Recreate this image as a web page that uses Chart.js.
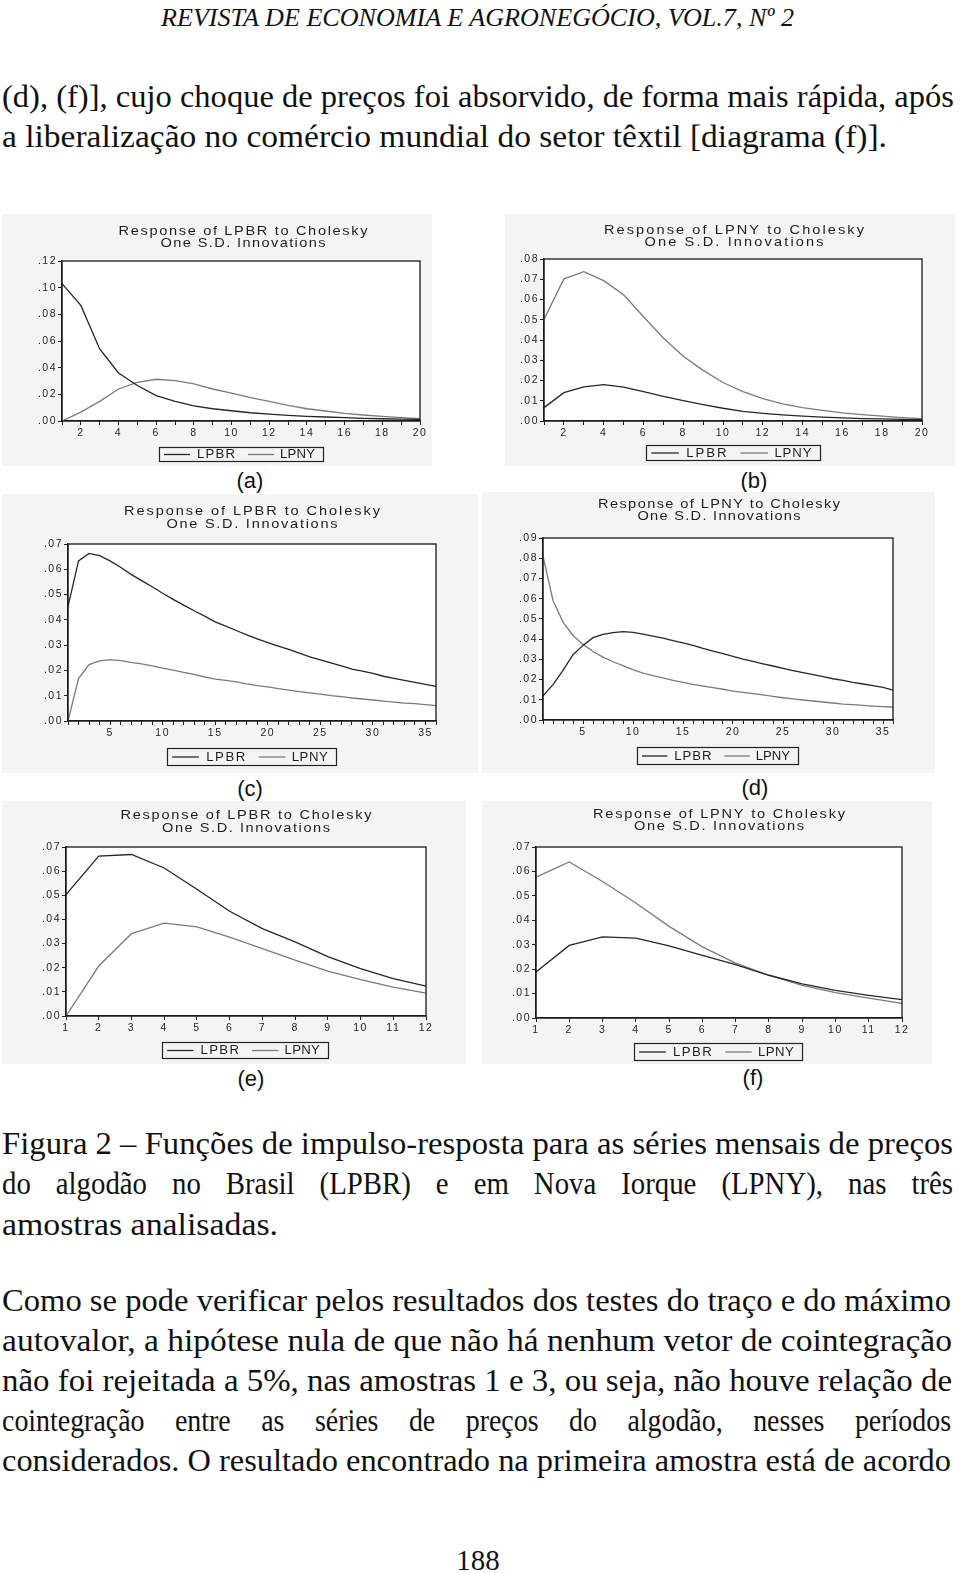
<!DOCTYPE html>
<html><head><meta charset="utf-8">
<script src="https://cdn.jsdelivr.net/npm/chart.js@4.4.1/dist/chart.umd.min.js"></script>
<style>
html,body{margin:0;padding:0;background:#fff;}
body{width:960px;height:1573px;position:relative;overflow:hidden;}
.ln{position:absolute;white-space:nowrap;line-height:1;color:#111;transform-origin:0 0;}
.tag{position:absolute;white-space:nowrap;font-size:22px;color:#111;line-height:1;}
canvas{position:absolute;}
</style></head><body>
<script>
// ---------- data ----------
const periods20 = ['1','2','3','4','5','6','7','8','9','10','11','12','13','14','15','16','17','18','19','20'];
const periods36 = ['1','2','3','4','5','6','7','8','9','10','11','12','13','14','15','16','17','18','19','20','21','22','23','24','25','26','27','28','29','30','31','32','33','34','35','36'];
const periods12 = ['1','2','3','4','5','6','7','8','9','10','11','12'];
const tickLabels20 = ['2','4','6','8','10','12','14','16','18','20'];
const tickLabels36 = ['5','10','15','20','25','30','35'];
const tickLabels12 = ['1','2','3','4','5','6','7','8','9','10','11','12'];

const aLPBR = [0.103,0.0867,0.054,0.036,0.0266,0.019,0.0147,0.0114,0.0092,0.0077,0.0062,0.0052,0.0042,0.0035,0.003,0.0025,0.002,0.0017,0.0014,0.0012];
const aLPNY = [0.0,0.0067,0.0147,0.024,0.029,0.0313,0.0303,0.0278,0.024,0.0209,0.0176,0.0147,0.0117,0.0092,0.0075,0.0057,0.0045,0.0035,0.0025,0.0017];
const bLPBR = [0.0066,0.014,0.0169,0.018,0.0167,0.0145,0.0122,0.0101,0.0081,0.0063,0.0048,0.0038,0.003,0.0024,0.0019,0.0015,0.0012,0.001,0.0008,0.0007];
const bLPNY = [0.0502,0.0702,0.0737,0.0693,0.0623,0.0515,0.041,0.032,0.025,0.019,0.0145,0.011,0.0085,0.0066,0.0052,0.004,0.0031,0.0024,0.0017,0.0012];
const cLPBR = [0.0452,0.0633,0.0663,0.0654,0.0633,0.0608,0.058,0.0555,0.0531,0.0505,0.0481,0.0458,0.0436,0.0415,0.0392,0.0375,0.0358,0.0341,0.0325,0.031,0.0296,0.0283,0.0268,0.0254,0.0242,0.023,0.0218,0.0205,0.0197,0.0188,0.0177,0.0169,0.0161,0.0153,0.0145,0.0137];
const cLPNY = [0.0,0.0168,0.0223,0.0238,0.0243,0.0239,0.0232,0.0226,0.0218,0.0209,0.0201,0.0192,0.0184,0.0174,0.0166,0.0161,0.0155,0.0147,0.014,0.0135,0.0128,0.0122,0.0116,0.0111,0.0106,0.01,0.0096,0.0091,0.0087,0.0083,0.0079,0.0075,0.0071,0.0069,0.0065,0.0061];
const dLPBR = [0.0119,0.0175,0.0245,0.0323,0.0369,0.0407,0.0423,0.0432,0.0437,0.0433,0.0425,0.0415,0.0405,0.0392,0.0381,0.0369,0.0354,0.0341,0.0328,0.0315,0.0301,0.029,0.0278,0.0267,0.0255,0.0244,0.0234,0.0224,0.0214,0.0204,0.0196,0.0186,0.0178,0.017,0.0161,0.0148];
const dLPNY = [0.081,0.0591,0.0484,0.0418,0.0374,0.0339,0.0311,0.0288,0.0269,0.0249,0.0232,0.0219,0.0208,0.0196,0.0186,0.0176,0.0168,0.016,0.0152,0.0143,0.0137,0.013,0.0124,0.0117,0.011,0.0104,0.0099,0.0094,0.0089,0.0084,0.0079,0.0076,0.0072,0.0069,0.0066,0.0063];
const eLPBR = [0.0503,0.0662,0.0669,0.0613,0.0525,0.0434,0.0362,0.0307,0.0246,0.0196,0.0155,0.0124];
const eLPNY = [0.0,0.0207,0.0341,0.0385,0.0369,0.0327,0.0279,0.0231,0.0186,0.0151,0.012,0.0095];
const fLPBR = [0.0188,0.0297,0.0332,0.0327,0.0295,0.0256,0.0218,0.0175,0.014,0.0113,0.0093,0.0075];
const fLPNY = [0.0577,0.0639,0.0559,0.0471,0.0375,0.0291,0.0225,0.0175,0.0134,0.0104,0.0081,0.006];

const seriesNames = ['LPBR','LPNY'];
const titleBR = ['Response of LPBR to Cholesky','One S.D. Innovations'];
const titleNY = ['Response of LPNY to Cholesky','One S.D. Innovations'];
const panelTags = ['(a)','(b)','(c)','(d)','(e)','(f)'];

const textLines = [
 {t:'REVISTA DE ECONOMIA E AGRONEGÓCIO, VOL.7, Nº 2', x:161, b:26, w:633, fs:26, italic:true, mode:'fit'},
 {t:'(d), (f)], cujo choque de preços foi absorvido, de forma mais rápida, após', x:2, b:107, w:952, fs:31, mode:'fit'},
 {t:'a liberalização no comércio mundial do setor têxtil [diagrama (f)].', x:2, b:147, w:885, fs:31, mode:'fit'},
 {t:'Figura 2 – Funções de impulso-resposta para as séries mensais de preços', x:2, b:1154, w:951, fs:32, mode:'fit'},
 {t:'do algodão no Brasil (LPBR) e em Nova Iorque (LPNY), nas três', x:2, b:1194, w:951, fs:32, mode:'justify'},
 {t:'amostras analisadas.', x:2, b:1235, w:276, fs:32, mode:'fit'},
 {t:'Como se pode verificar pelos resultados dos testes do traço e do máximo', x:2, b:1311, w:949, fs:31, mode:'fit'},
 {t:'autovalor, a hipótese nula de que não há nenhum vetor de cointegração', x:2, b:1351, w:950, fs:31, mode:'fit'},
 {t:'não foi rejeitada a 5%, nas amostras 1 e 3, ou seja, não houve relação de', x:2, b:1391, w:950, fs:31, mode:'fit'},
 {t:'cointegração entre as séries de preços do algodão, nesses períodos', x:2, b:1431, w:949, fs:31, mode:'justify'},
 {t:'considerados. O resultado encontrado na primeira amostra está de acordo', x:2, b:1471, w:949, fs:31, mode:'fit'},
 {t:'188', x:478, b:1570, w:0, fs:29, mode:'center'}
];

// ---------- layout ----------
const panels = [
 {canvas:[2,214,432,466], plot:[62,261,420,421], labels:periods20, ticks:tickLabels20, ymax:0.12, ystep:0.02, lpbr:aLPBR, lpny:aLPNY, title:titleBR, titleX:243, titleY:[231.5,243.3], titleW:[249,165], legend:[159,447,164,14], tagX:250, tagY:481},
 {canvas:[505,214,955,466], plot:[544,259,922,421], labels:periods20, ticks:tickLabels20, ymax:0.08, ystep:0.01, lpbr:bLPBR, lpny:bLPNY, title:titleNY, titleX:734, titleY:[230.7,242.3], titleW:[260,179], legend:[646,445,174,15], tagX:754, tagY:481},
 {canvas:[2,494,478,773], plot:[68,544,436,721], labels:periods36, ticks:tickLabels36, ymax:0.07, ystep:0.01, lpbr:cLPBR, lpny:cLPNY, title:titleBR, titleX:252, titleY:[511.7,524.3], titleW:[256,171], legend:[167,748,169,17], tagX:250, tagY:789},
 {canvas:[482,492,935,773], plot:[543,538,893,720], labels:periods36, ticks:tickLabels36, ymax:0.09, ystep:0.01, lpbr:dLPBR, lpny:dLPNY, title:titleNY, titleX:719, titleY:[504,516.7], titleW:[242,163], legend:[637,747,161,17], tagX:755, tagY:788},
 {canvas:[2,801,466,1064], plot:[66,847,426,1016], labels:periods12, ticks:tickLabels12, ymax:0.07, ystep:0.01, lpbr:eLPBR, lpny:eLPNY, title:titleBR, titleX:246, titleY:[815.7,828.3], titleW:[251,168], legend:[162,1042,166,16], tagX:251, tagY:1079},
 {canvas:[482,801,932,1064], plot:[536,847,902,1018], labels:periods12, ticks:tickLabels12, ymax:0.07, ystep:0.01, lpbr:fLPBR, lpny:fLPNY, title:titleNY, titleX:719, titleY:[814,826.7], titleW:[252,170], legend:[634,1043,168,17], tagX:753, tagY:1078}
];

function fontAvailable(name){
  const c = document.createElement('canvas').getContext('2d');
  const s = 'abcdefghijklmnopqrstuvwxyzABCDEFGHIJ0123456789 WMQ.,';
  let diff = false;
  ['monospace','serif','sans-serif'].forEach(g=>{
    c.font = '40px ' + g; const w0 = c.measureText(s).width;
    c.font = '40px "' + name + '", ' + g; const w1 = c.measureText(s).width;
    if (Math.abs(w0-w1) > 0.01) diff = true;
  });
  return diff;
}
function pick(list, generic){
  for (const n of list){ if (fontAvailable(n)) return '"' + n + '", ' + generic; }
  return generic;
}
const SERIF = pick(['Liberation Serif','Times New Roman','Tinos','Nimbus Roman','FreeSerif','Noto Serif','DejaVu Serif'], 'serif');
const SANS = pick(['Liberation Sans','Arial','Arimo','Nimbus Sans','Helvetica','DejaVu Sans'], 'sans-serif');
const XH = 20;

function drawSpaced(ctx, text, x, y, w, sx){
  sx = sx || 1;
  let total = 0; const ws = [];
  for (const ch of text){ const m = ctx.measureText(ch).width*sx; ws.push(m); total += m; }
  const n = ws.length;
  const ls = n > 1 ? (w - total)/(n-1) : 0;
  let cx = x; let i = 0;
  for (const ch of text){
    ctx.save(); ctx.translate(cx, y); ctx.scale(sx, 1); ctx.fillText(ch, 0, 0); ctx.restore();
    cx += ws[i++] + ls;
  }
}

const evPlugin = {
  id:'ev',
  beforeDraw(chart, args, o){
    const ctx = chart.ctx, ca = chart.chartArea;
    ctx.save();
    ctx.fillStyle = '#f4f4f4'; ctx.fillRect(0,0,chart.width,chart.height);
    ctx.fillStyle = '#ffffff'; ctx.fillRect(ca.left, ca.top, ca.right-ca.left, ca.bottom-ca.top);
    ctx.restore();
    if ('letterSpacing' in ctx) ctx.letterSpacing = '1.5px';
  },
  afterDraw(chart, args, o){
    const ctx = chart.ctx, ca = chart.chartArea;
    ctx.save();
    if ('letterSpacing' in ctx) ctx.letterSpacing = '0px';
    ctx.strokeStyle = '#1a1a1a'; ctx.lineWidth = 1.3;
    ctx.strokeRect(ca.left, ca.top, ca.right-ca.left, ca.bottom-ca.top);
    // title
    ctx.fillStyle = '#1e1e1e'; ctx.textBaseline = 'middle'; ctx.textAlign = 'left';
    ctx.font = '13px ' + SANS;
    o.title.forEach((t,i)=>{ drawSpaced(ctx, t, o.titleX - o.titleW[i]/2, o.titleY[i], o.titleW[i], 1.12); });
    // legend
    const [lx,ly,lw,lh] = o.legend;
    ctx.strokeStyle = '#222'; ctx.lineWidth = 1.2;
    ctx.strokeRect(lx+0.5, ly+0.5, lw, lh);
    const k = lw/164, cy = ly + lh/2 + 0.5;
    const ds = chart.data.datasets;
    [[5,31,38,76],[89,115,121,156]].forEach((p,i)=>{
      ctx.strokeStyle = ds[i].borderColor; ctx.lineWidth = 1.3;
      ctx.beginPath(); ctx.moveTo(lx+p[0]*k, cy); ctx.lineTo(lx+p[1]*k, cy); ctx.stroke();
      ctx.font = '12px ' + SANS; ctx.fillStyle = '#1e1e1e';
      drawSpaced(ctx, ds[i].label, lx+p[2]*k, cy+0.5, (p[3]-p[2])*k, 1.1);
    });
    ctx.restore();
  }
};

function fmtY(v){ return v.toFixed(2).replace(/^0\./,'.'); }

window.addEventListener('load', ()=>{
  panels.forEach((p, idx)=>{
    const [cl,ct,cr,cb] = p.canvas;
    const [pl,pt,pr,pb] = p.plot;
    const cv = document.createElement('canvas');
    cv.width = cr-cl; cv.height = cb-ct;
    cv.style.left = cl+'px'; cv.style.top = ct+'px';
    cv.style.width = (cr-cl)+'px'; cv.style.height = (cb-ct)+'px';
    document.body.appendChild(cv);
    const tickSet = p.ticks;
    new Chart(cv, {
      type:'line',
      data:{labels:p.labels, datasets:[
        {label:seriesNames[0], data:p.lpbr, borderColor:'#262626', borderWidth:1.3, pointRadius:0, tension:0, fill:false},
        {label:seriesNames[1], data:p.lpny, borderColor:'#7a7a7a', borderWidth:1.3, pointRadius:0, tension:0, fill:false}
      ]},
      options:{
        responsive:false, animation:false, devicePixelRatio:1,
        layout:{autoPadding:false, padding:{left:0, top:pt-ct, right:cr-pr, bottom:cb-pb-XH}},
        plugins:{legend:{display:false}, title:{display:false}, tooltip:{enabled:false},
          ev:{title:p.title, titleX:p.titleX-cl, titleY:p.titleY.map(v=>v-ct), titleW:p.titleW,
              legend:[p.legend[0]-cl, p.legend[1]-ct, p.legend[2], p.legend[3]]}},
        scales:{
          x:{type:'category', offset:false,
             grid:{drawOnChartArea:false, drawTicks:true, tickLength:4, color:'#222', lineWidth:1},
             border:{display:true, color:'#1a1a1a', width:1.3},
             ticks:{autoSkip:false, maxRotation:0, minRotation:0, padding:2, color:'#1e1e1e',
                    font:{family:SANS, size:10.5},
                    callback:function(v){ const l = this.getLabelForValue(v); return tickSet.includes(l) ? l : ''; }},
             afterFit:(s)=>{ s.height = XH; }},
          y:{type:'linear', min:0, max:p.ymax,
             grid:{drawOnChartArea:false, drawTicks:true, tickLength:4, color:'#222', lineWidth:1},
             border:{display:true, color:'#1a1a1a', width:1.3},
             ticks:{stepSize:p.ystep, padding:1, color:'#1e1e1e', font:{family:SANS, size:10.5}, callback:(v)=>fmtY(v)},
             afterFit:(s)=>{ s.width = pl-cl; }}
        }
      },
      plugins:[evPlugin]
    });
    const tg = document.createElement('div');
    tg.className = 'tag'; tg.textContent = panelTags[idx];
    tg.style.fontFamily = SANS;
    document.body.appendChild(tg);
    const w = tg.getBoundingClientRect().width;
    tg.style.left = (p.tagX - w/2)+'px'; tg.style.top = (p.tagY - 11)+'px';
  });

  textLines.forEach(L=>{
    const d = document.createElement('div');
    d.className = 'ln';
    d.style.fontFamily = SERIF;
    d.style.fontSize = L.fs+'px';
    if (L.italic) d.style.fontStyle = 'italic';
    d.appendChild(document.createTextNode(L.t));
    const mk = document.createElement('span');
    mk.style.cssText = 'display:inline-block;width:0;height:0;vertical-align:baseline;';
    d.appendChild(mk);
    d.style.top = '0px';
    document.body.appendChild(d);
    const r = d.getBoundingClientRect();
    const baseOff = mk.getBoundingClientRect().bottom - r.top;
    d.style.top = (L.b - baseOff)+'px';
    const nat = r.width;
    if (L.mode === 'fit'){
      d.style.left = L.x+'px';
      d.style.transform = 'scaleX(' + (L.w/nat) + ')';
    } else if (L.mode === 'justify'){
      const s = 0.9; const n = (L.t.match(/ /g)||[]).length;
      d.style.left = L.x+'px';
      d.style.wordSpacing = ((L.w/s - nat)/n)+'px';
      d.style.transform = 'scaleX(' + s + ')';
    } else {
      d.style.left = (L.x - nat/2)+'px';
    }
  });
});
</script>
</body></html>
